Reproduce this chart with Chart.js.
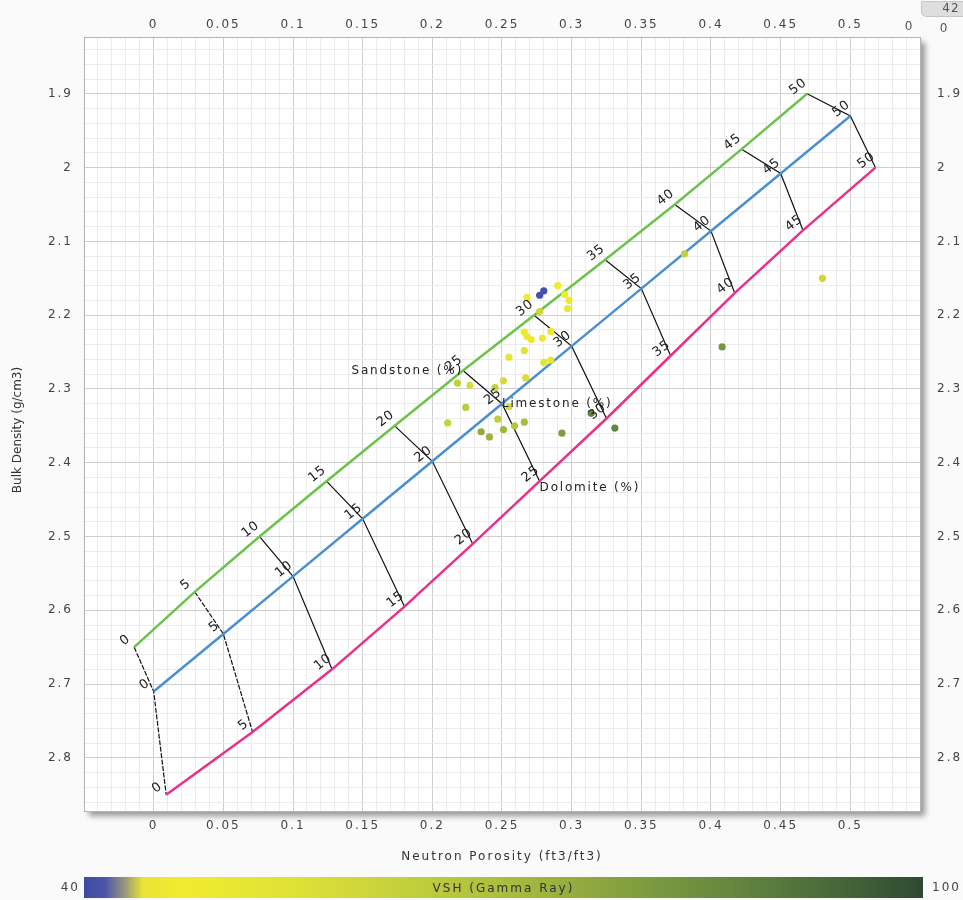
<!DOCTYPE html>
<html>
<head>
<meta charset="utf-8">
<title>Neutron-Density Crossplot</title>
<script src="https://cdn.jsdelivr.net/npm/chart.js@4/dist/chart.umd.min.js"></script>
<style>
  html, body { margin: 0; padding: 0; background: #fafafa; }
  #wrap { width: 963px; height: 900px; }
</style>
</head>
<body>
<div id="wrap"><canvas id="xplot" width="963" height="900"></canvas></div>
<script>
// ── Data ──────────────────────────────────────────────────────────────

const porosityPct = [0, 5, 10, 15, 20, 25, 30, 35, 40, 45, 50];

// lithology lines: neutron porosity (ft3/ft3) / bulk density (g/cm3)
const sandNphi = [-0.014, 0.0295, 0.076, 0.124, 0.173, 0.222, 0.273, 0.324, 0.374, 0.422, 0.469];
const sandRhob = [2.65, 2.575, 2.5, 2.425, 2.35, 2.275, 2.2, 2.125, 2.05, 1.975, 1.9];
const limeNphi = [0, 0.05, 0.1, 0.15, 0.2, 0.25, 0.3, 0.35, 0.4, 0.45, 0.5];
const limeRhob = [2.71, 2.632, 2.554, 2.476, 2.398, 2.32, 2.242, 2.164, 2.086, 2.008, 1.93];
const dolNphi  = [0.009, 0.071, 0.128, 0.180, 0.229, 0.277, 0.325, 0.371, 0.417, 0.466, 0.518];
const dolRhob  = [2.85, 2.765, 2.68, 2.595, 2.51, 2.425, 2.34, 2.255, 2.17, 2.085, 2.0];

// log samples
const sampleNphi = [0.277, 0.280, 0.290, 0.268, 0.295, 0.298, 0.297, 0.277, 0.266, 0.268,
                    0.271, 0.279, 0.285, 0.266, 0.255, 0.280, 0.285, 0.267, 0.251, 0.218,
                    0.227, 0.245, 0.224, 0.255, 0.211, 0.247, 0.266, 0.259, 0.251, 0.235,
                    0.241, 0.293, 0.314, 0.331, 0.381, 0.480, 0.408];
const sampleRhob = [2.173, 2.167, 2.160, 2.176, 2.172, 2.180, 2.191, 2.195, 2.223, 2.229,
                    2.233, 2.231, 2.222, 2.248, 2.257, 2.264, 2.261, 2.285, 2.289, 2.292,
                    2.295, 2.298, 2.325, 2.324, 2.346, 2.341, 2.345, 2.350, 2.355, 2.358,
                    2.365, 2.360, 2.333, 2.353, 2.117, 2.150, 2.243];
const sampleVsh  = [41, 41, 47, 48, 47, 48, 50, 60, 48, 49,
                    50, 49, 50, 55, 52, 53, 52, 57, 58, 63,
                    58, 63, 65, 58, 62, 64, 70, 67, 72, 76,
                    73, 80, 87, 87, 62, 60, 82];

const xTickLabels = [0, 0.05, 0.1, 0.15, 0.2, 0.25, 0.3, 0.35, 0.4, 0.45, 0.5];
const yTickLabels = [1.9, 2, 2.1, 2.2, 2.3, 2.4, 2.5, 2.6, 2.7, 2.8];
const vshRange = [40, 100];

// ── Colour map for VSH ────────────────────────────────────────────────

const vshStops = [
    [40, '#3d4ba6'], [41.5, '#4b55aa'], [43, '#9c9c78'], [44.2, '#e9e437'],
    [47, '#f0ec2e'], [55, '#dfe136'], [63, '#c3d03c'], [70, '#a9bd3f'],
    [78, '#87a33f'], [86, '#66883f'], [93, '#4a6c3a'], [100, '#2d4a32'],
];

function hexRgb(h) {
    const n = parseInt(h.slice(1), 16);
    return [(n >> 16) & 255, (n >> 8) & 255, n & 255];
}

function vshColor(v) {
    for (let i = 1; i < vshStops.length; i++) {
        const [v1, c1] = vshStops[i];
        const [v0, c0] = vshStops[i - 1];
        if (v <= v1) {
            const t = (v - v0) / (v1 - v0);
            const a = hexRgb(c0), b = hexRgb(c1);
            return `rgb(${a.map((x, k) => Math.round(x + (b[k] - x) * t)).join(',')})`;
        }
    }
    return vshStops[vshStops.length - 1][1];
}

// ── Grid helpers ──────────────────────────────────────────────────────

const xGrid = [];
for (let i = -4; i <= 54; i++) xGrid.push(i / 100);
const yGrid = [];
for (let i = 92; i <= 143; i++) yGrid.push(i / 50);

const isMajorX = v => Math.round(v * 100) % 5 === 0;
const isMajorY = v => Math.round(v * 50) % 5 === 0;

function labelFrom(list, v) {
    const hit = list.find(t => Math.abs(t - v) < 1e-6);
    return hit === undefined ? '' : String(hit);
}

const FONT = '"DejaVu Sans", Verdana, sans-serif';
Chart.defaults.font.family = FONT;
Chart.defaults.font.size = 12;
Chart.defaults.color = '#444';

// ── Datasets ──────────────────────────────────────────────────────────

const pts = (xs, ys) => xs.map((x, i) => ({ x, y: ys[i] }));

const lithoLine = (label, xs, ys, color) => ({
    label, data: pts(xs, ys), showLine: true, borderColor: color,
    borderWidth: 2.5, pointRadius: 0, tension: 0, order: 2,
});

const isoLines = porosityPct.map((p, i) => ({
    label: `phi ${p}`,
    data: [
        { x: sandNphi[i], y: sandRhob[i] },
        { x: limeNphi[i], y: limeRhob[i] },
        { x: dolNphi[i],  y: dolRhob[i] },
    ],
    showLine: true, borderColor: '#111', borderWidth: 1.2,
    borderDash: p <= 5 ? [5, 1.5] : [], pointRadius: 0, tension: 0, order: 3,
}));

const samples = {
    label: 'Samples',
    data: pts(sampleNphi, sampleRhob),
    pointRadius: 3.6,
    pointBorderWidth: 0,
    pointBackgroundColor: sampleVsh.map(vshColor),
    order: 1,
};

// ── Drawing plugin: frame, labels, colour bar ─────────────────────────

const decor = {
    id: 'decor',
    beforeDraw(chart) {
        const { ctx, chartArea: a } = chart;
        ctx.save();
        ctx.fillStyle = '#fafafa';
        ctx.fillRect(0, 0, chart.width, chart.height);
        ctx.shadowColor = 'rgba(0,0,0,0.4)';
        ctx.shadowBlur = 6;
        ctx.shadowOffsetX = 5;
        ctx.shadowOffsetY = 5;
        ctx.fillStyle = '#fff';
        ctx.fillRect(a.left, a.top, a.right - a.left, a.bottom - a.top);
        ctx.restore();
        ctx.letterSpacing = '2px';
    },
    beforeDatasetsDraw(chart) {
        chart.ctx.letterSpacing = '0px';
    },
    afterDraw(chart) {
        const { ctx, scales: { x, y } } = chart;
        ctx.save();
        ctx.letterSpacing = '0.8px';
        ctx.fillStyle = '#222';
        ctx.font = `13px ${FONT}`;
        ctx.textAlign = 'center';
        ctx.textBaseline = 'middle';

        // porosity numbers along each lithology line
        [[sandNphi, sandRhob], [limeNphi, limeRhob], [dolNphi, dolRhob]].forEach(([nx, ry]) => {
            porosityPct.forEach((p, i) => {
                const px = x.getPixelForValue(nx[i]) - 9;
                const py = y.getPixelForValue(ry[i]) - 7;
                ctx.save();
                ctx.translate(px, py);
                ctx.rotate(-38 * Math.PI / 180);
                ctx.fillText(String(p), 0, 0);
                ctx.restore();
            });
        });

        // lithology names at the 25% node
        const k = porosityPct.indexOf(25);
        ctx.font = `12px ${FONT}`;
        ctx.letterSpacing = '1.8px';
        ctx.textAlign = 'right';
        ctx.fillText('Sandstone (%)', x.getPixelForValue(sandNphi[k]), y.getPixelForValue(sandRhob[k]));
        ctx.textAlign = 'left';
        ctx.fillText('Limestone (%)', x.getPixelForValue(limeNphi[k]), y.getPixelForValue(limeRhob[k]));
        ctx.fillText('Dolomite (%)', x.getPixelForValue(dolNphi[k]), y.getPixelForValue(dolRhob[k]) + 7);

        // y axis title (not stretched)
        ctx.letterSpacing = '0px';
        ctx.fillStyle = '#333';
        ctx.save();
        ctx.translate(18, 430);
        ctx.rotate(-Math.PI / 2);
        ctx.textAlign = 'center';
        ctx.fillText('Bulk Density (g/cm3)', 0, 0);
        ctx.restore();

        // VSH colour bar
        const bx = 84, bw = 839, by = 877, bh = 21;
        const grad = ctx.createLinearGradient(bx, 0, bx + bw, 0);
        vshStops.forEach(([v, c]) => grad.addColorStop((v - vshRange[0]) / (vshRange[1] - vshRange[0]), c));
        ctx.fillStyle = grad;
        ctx.fillRect(bx, by, bw, bh);
        ctx.letterSpacing = '2px';
        ctx.fillStyle = '#333';
        ctx.textAlign = 'center';
        ctx.fillText('VSH (Gamma Ray)', bx + bw / 2, by + bh / 2 + 1);
        ctx.fillStyle = '#444';
        ctx.textAlign = 'right';
        ctx.fillText(String(vshRange[0]), 80, by + bh / 2);
        ctx.textAlign = 'left';
        ctx.fillText(String(vshRange[1]), 932, by + bh / 2);

        // little counter tab at the top right
        ctx.fillStyle = '#dedede';
        ctx.strokeStyle = '#c6c6c6';
        ctx.beginPath();
        ctx.roundRect(921.5, 1.5, 45, 15, [0, 0, 0, 5]);
        ctx.fill();
        ctx.stroke();
        ctx.fillStyle = '#555';
        ctx.textAlign = 'center';
        ctx.letterSpacing = '1px';
        ctx.fillText('42', 951, 9);
        ctx.fillText('0', 944, 29);
        ctx.fillText('0', 909, 27);
        ctx.restore();
    },
};

// ── Chart ─────────────────────────────────────────────────────────────

const gridX = c => (isMajorX(c.tick.value) ? '#cfcfcf' : '#ececec');
const gridY = c => (isMajorY(c.tick.value) ? '#cfcfcf' : '#ececec');

new Chart(document.getElementById('xplot'), {
    type: 'scatter',
    data: {
        datasets: [
            samples,
            lithoLine('Sandstone', sandNphi, sandRhob, '#6cc24a'),
            lithoLine('Limestone', limeNphi, limeRhob, '#4a8fcf'),
            lithoLine('Dolomite',  dolNphi,  dolRhob,  '#e83189'),
            ...isoLines,
        ],
    },
    options: {
        responsive: false,
        animation: false,
        devicePixelRatio: 1,
        layout: { padding: 0 },
        plugins: { legend: { display: false }, tooltip: { enabled: false } },
        scales: {
            x: {
                type: 'linear', position: 'bottom', min: -0.05, max: 0.55,
                afterBuildTicks: s => { s.ticks = xGrid.map(value => ({ value })); },
                afterFit: s => { s.height = 89; },
                grid: { color: gridX, drawTicks: false },
                border: { color: '#b4b4b4' },
                ticks: { padding: 8, autoSkip: false, maxRotation: 0, minRotation: 0,
                         callback: v => labelFrom(xTickLabels, v) },
                title: { display: true, text: 'Neutron Porosity (ft3/ft3)', color: '#333',
                         padding: { top: 0, bottom: 36 } },
            },
            x2: {
                type: 'linear', position: 'top', min: -0.05, max: 0.55,
                afterBuildTicks: s => { s.ticks = xGrid.map(value => ({ value })); },
                afterFit: s => { s.height = 37; },
                grid: { display: false, drawTicks: false },
                border: { color: '#b4b4b4' },
                ticks: { padding: 5, autoSkip: false, maxRotation: 0, minRotation: 0,
                         callback: v => labelFrom(xTickLabels, v) },
            },
            y: {
                type: 'linear', position: 'left', reverse: true, min: 1.823, max: 2.872,
                afterBuildTicks: s => { s.ticks = yGrid.map(value => ({ value })); },
                afterFit: s => { s.width = 84; },
                grid: { color: gridY, drawTicks: false },
                border: { color: '#b4b4b4' },
                ticks: { padding: 11, autoSkip: false, callback: v => labelFrom(yTickLabels, v) },
            },
            y2: {
                type: 'linear', position: 'right', reverse: true, min: 1.823, max: 2.872,
                afterBuildTicks: s => { s.ticks = yGrid.map(value => ({ value })); },
                afterFit: s => { s.width = 43; },
                grid: { display: false, drawTicks: false },
                border: { color: '#b4b4b4' },
                ticks: { padding: 17, autoSkip: false, callback: v => labelFrom(yTickLabels, v) },
            },
        },
    },
    plugins: [decor],
});
</script>
</body>
</html>
